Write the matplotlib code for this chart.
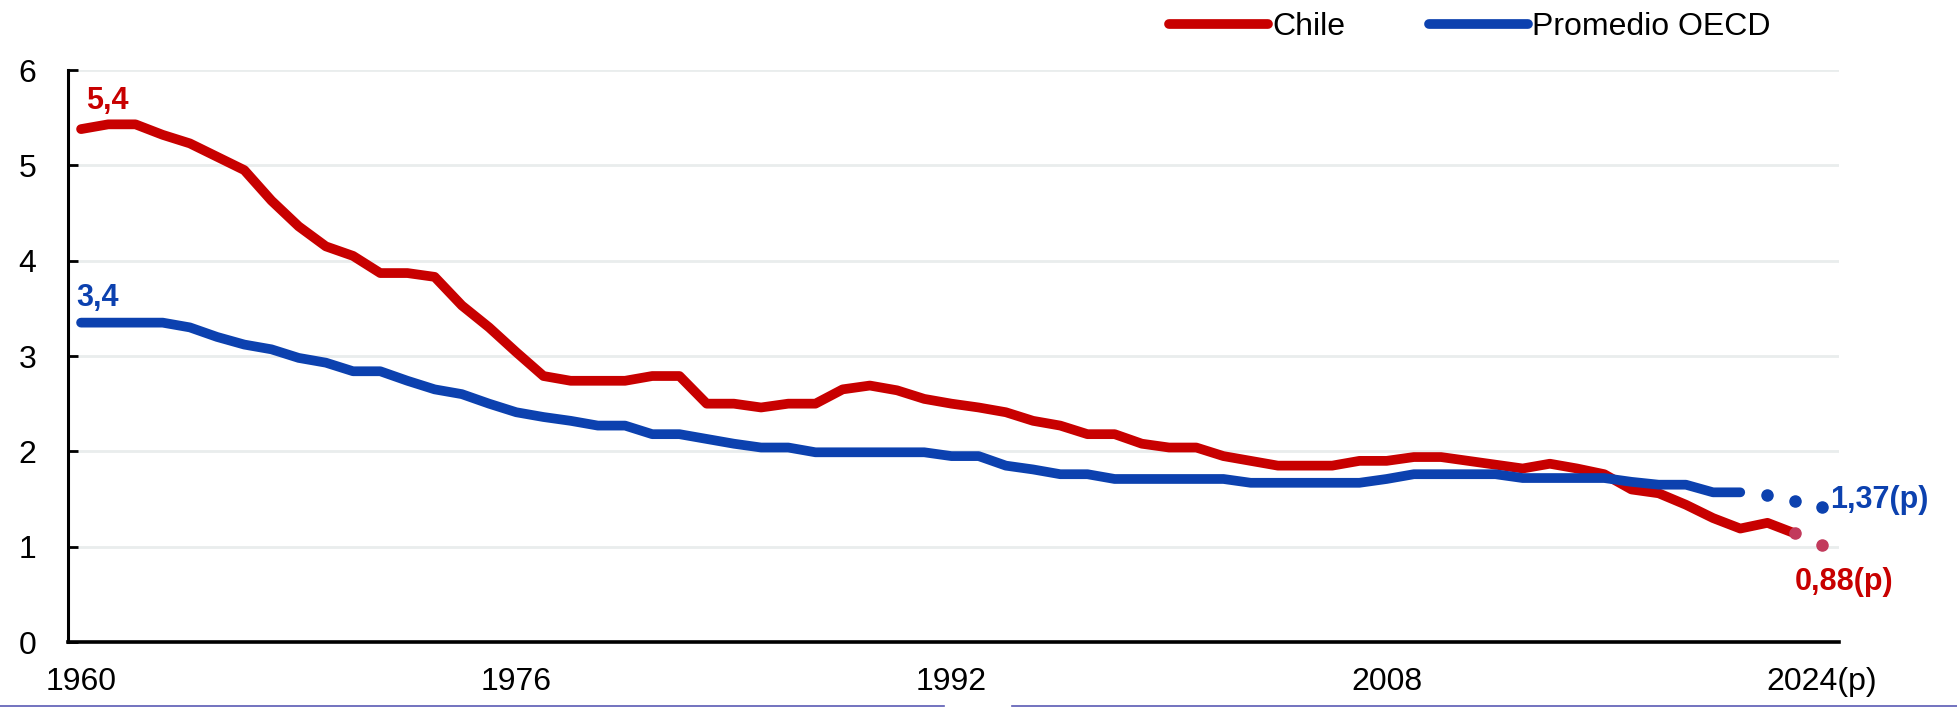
import numpy as np
import matplotlib
matplotlib.use('Agg')
import matplotlib.pyplot as plt
from matplotlib.lines import Line2D

# Tasa global de fecundidad, Chile vs promedio OECD
years_chile = np.arange(1960, 2024)
chile = [5.38, 5.43, 5.43, 5.32, 5.23, 5.09, 4.95, 4.63, 4.36, 4.15,
         4.05, 3.87, 3.87, 3.83, 3.53, 3.30, 3.04, 2.79, 2.74, 2.74,
         2.74, 2.79, 2.79, 2.50, 2.50, 2.46, 2.50, 2.50, 2.65, 2.69,
         2.64, 2.55, 2.50, 2.46, 2.41, 2.32, 2.27, 2.18, 2.18, 2.08,
         2.04, 2.04, 1.95, 1.90, 1.85, 1.85, 1.85, 1.90, 1.90, 1.94,
         1.94, 1.90, 1.86, 1.82, 1.87, 1.82, 1.76, 1.60, 1.56, 1.44,
         1.30, 1.19, 1.25, 1.14]
years_oecd = np.arange(1960, 2022)
oecd = [3.35, 3.35, 3.35, 3.35, 3.30, 3.20, 3.12, 3.07, 2.98, 2.93,
        2.84, 2.84, 2.74, 2.65, 2.60, 2.50, 2.41, 2.36, 2.32, 2.27,
        2.27, 2.18, 2.18, 2.13, 2.08, 2.04, 2.04, 1.99, 1.99, 1.99,
        1.99, 1.99, 1.95, 1.95, 1.85, 1.81, 1.76, 1.76, 1.71, 1.71,
        1.71, 1.71, 1.71, 1.67, 1.67, 1.67, 1.67, 1.67, 1.71, 1.76,
        1.76, 1.76, 1.76, 1.72, 1.72, 1.72, 1.72, 1.68, 1.65, 1.65,
        1.57, 1.57]

# proyecciones (p)
years_oecd_p = [2022, 2023, 2024]
oecd_p = [1.54, 1.48, 1.42]
years_chile_p = [2023, 2024]
chile_p = [1.14, 1.02]

xticks = [1960, 1976, 1992, 2008, 2024]
xtick_labels = ['1960', '1976', '1992', '2008', '2024(p)']

RED = '#C80000'
BLUE = '#0C41AF'
PINK = '#C23A5C'

plt.rcParams['font.family'] = ['Liberation Sans', 'DejaVu Sans']

W, H = 1958, 708
fig = plt.figure(figsize=(W / 100, H / 100), dpi=100)
ax = fig.add_axes([68 / W, 1 - 642 / H, (1839 - 68) / W, (642 - 70) / H])

ax.plot(years_chile, chile, color=RED, lw=7, solid_capstyle='round',
        solid_joinstyle='round', label='Chile', zorder=3)
ax.plot(years_oecd, oecd, color=BLUE, lw=7, solid_capstyle='round',
        solid_joinstyle='round', label='Promedio OECD', zorder=4)
ax.plot(years_oecd_p, oecd_p, ls='none', marker='o', ms=8, color=BLUE, zorder=4)
ax.plot(years_chile_p, chile_p, ls='none', marker='o', ms=8, color=PINK, zorder=5)

# etiquetas de valores
ax.annotate('5,4', xy=(years_chile[0], chile[0]), xytext=(26, 28),
            textcoords='offset pixels', ha='center', va='center',
            fontsize=22, fontweight='bold', color=RED)
ax.annotate('3,4', xy=(years_oecd[0], oecd[0]), xytext=(16, 25),
            textcoords='offset pixels', ha='center', va='center',
            fontsize=22, fontweight='bold', color=BLUE)
ax.annotate('1,37(p)', xy=(years_oecd_p[-1], oecd_p[-1]), xytext=(8, 7),
            textcoords='offset pixels', ha='left', va='center',
            fontsize=22, fontweight='bold', color=BLUE)
ax.annotate('0,88(p)', xy=(years_chile_p[-1], chile_p[-1]), xytext=(22, -37),
            textcoords='offset pixels', ha='center', va='center',
            fontsize=22, fontweight='bold', color=RED)

ax.set_xlim(1959.52, 2024.63)
ax.set_ylim(0, 6)
ax.set_yticks(range(7))
ax.set_xticks(xticks)
ax.set_xticklabels(xtick_labels)
ax.grid(axis='y', color='#E9EDED', lw=2)
ax.set_axisbelow(True)

for s in ['top', 'right']:
    ax.spines[s].set_visible(False)
ax.spines['left'].set_linewidth(2.2)
ax.spines['bottom'].set_linewidth(2.6)
ax.tick_params(axis='y', direction='in', length=7, width=2, pad=23, labelsize=23)
ax.tick_params(axis='x', length=0, pad=18, labelsize=23)

fig.legend(loc='center left', bbox_to_anchor=(1140 / W, 1 - 27 / H), ncol=2,
           frameon=False, handlelength=3.1, handletextpad=0.15,
           columnspacing=2.6, prop={'size': 23})

# filetes de borde inferior
fig.add_artist(Line2D([0, 944 / W], [2 / H, 2 / H], color='#5A5AB4', lw=1.2))
fig.add_artist(Line2D([1012 / W, 1], [2 / H, 2 / H], color='#5A5AB4', lw=1.2))

fig.savefig('out.png', dpi=100)
plt.close(fig)
